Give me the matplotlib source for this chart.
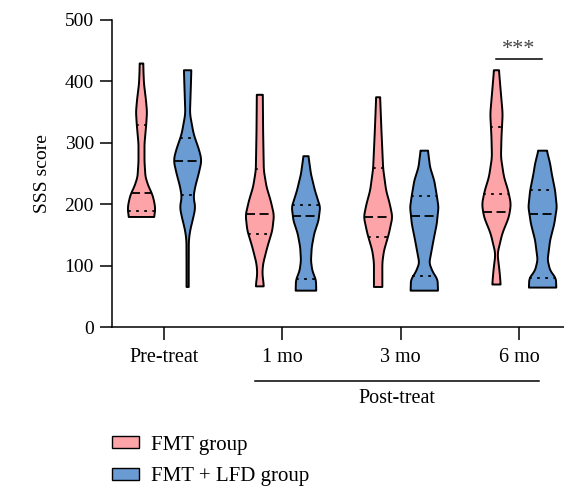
import numpy as np
import matplotlib
matplotlib.use('Agg')
import matplotlib.pyplot as plt
from matplotlib.patches import Patch

plt.rcParams['font.family'] = ['Liberation Serif', 'DejaVu Serif']

# categories and groups
categories = ['Pre-treat', '1 mo', '3 mo', '6 mo']
groups = ['FMT group', 'FMT + LFD group']
colors = ['#FDA4A9', '#6A9BD3']

# violin outlines: score levels and half widths (px)
fmt_y = [
    [180, 185, 196, 210, 218, 230, 245, 270, 299, 332, 351, 370, 397, 415, 430],
    [67, 78, 88, 104, 131, 158, 183, 207, 229, 256, 321, 379],
    [66, 88, 106, 125, 153, 180, 201, 223, 259, 321, 375],
    [70, 93, 120, 153, 180, 201, 223, 245, 277, 310, 348, 386, 419],
]
fmt_w = [
    [12.5, 13.3, 13.7, 12, 10.5, 7, 4, 3, 3, 4.8, 5.5, 4.5, 2.5, 2, 1.8],
    [4, 3.3, 2.5, 3.3, 7.5, 12.5, 14.2, 10.8, 6.7, 4, 3.3, 3],
    [4.2, 4.2, 4.2, 5.8, 10.8, 14.3, 11.7, 8, 5, 3.3, 2],
    [4.2, 3, 1, 5.8, 12.5, 14.5, 11.7, 7.5, 4.5, 5, 6.2, 4.2, 2.5],
]
lfd_y = [
    [66, 100, 142, 158, 180, 196, 212, 229, 250, 272, 288, 315, 348, 397, 419],
    [60, 77, 93, 109, 131, 153, 174, 196, 223, 250, 279],
    [60, 78, 91, 105, 120, 142, 169, 196, 215, 239, 261, 288],
    [65, 80, 93, 110, 142, 169, 196, 223, 250, 267, 288],
]
lfd_w = [
    [1.1, 1.1, 1.2, 2.5, 5.8, 7.8, 5.8, 7.5, 11, 14, 11.7, 6, 2.3, 3.3, 3.7],
    [10.3, 10, 6.3, 5, 5.8, 8.3, 12.5, 14.2, 9, 5, 2.5],
    [13.7, 13.3, 8.3, 5, 6.7, 9.2, 12.5, 14.2, 12.5, 10, 5.8, 3.7],
    [13.7, 13.3, 7.5, 5, 7.5, 11.7, 14.2, 12.5, 9.2, 7.5, 4.3],
]

# median (dashed) and quartile (dotted) lines as drawn
fmt_median = [218, 184, 179, 188]
fmt_quart = [[189, 329], [151, 257], [147, 259], [216, 325]]
lfd_median = [270, 181, 180, 184]
lfd_quart = [[215, 308], [78, 199], [83, 214], [80, 223]]

px_per_unit = 118.3
offset = 0.195


def smooth_outline(ys, ws):
    yy = np.linspace(ys[0], ys[-1], 400)
    ww = np.interp(yy, ys, ws)
    k = 9
    pad = np.pad(ww, k, mode='edge')
    ww = np.convolve(pad, np.ones(2 * k + 1) / (2 * k + 1), mode='same')[k:-k]
    return yy, ww / px_per_unit


fig = plt.figure(figsize=(5.64, 4.88), dpi=100)
ax = fig.add_axes([112 / 564, 1 - 327 / 488, 1 - 112 / 564, (327 - 20) / 488])

for gi, (ys_all, ws_all, med, quart) in enumerate([
        (fmt_y, fmt_w, fmt_median, fmt_quart),
        (lfd_y, lfd_w, lfd_median, lfd_quart)]):
    for ci in range(len(categories)):
        xc = ci + (offset if gi else -offset)
        yy, ww = smooth_outline(ys_all[ci], ws_all[ci])
        ax.fill_betweenx(yy, xc - ww, xc + ww, facecolor=colors[gi],
                         edgecolor='black', linewidth=1.4, zorder=2)
        hw = np.interp(med[ci], yy, ww)
        ax.plot([xc - hw, xc + hw], [med[ci], med[ci]], color='black',
                lw=1.3, dashes=(5, 2.5), zorder=3)
        for q in quart[ci]:
            hw = np.interp(q, yy, ww)
            ax.plot([xc - hw, xc + hw], [q, q], color='black',
                    lw=1.3, dashes=(1.5, 3), zorder=3)

ax.set_xlim(-0.44, 3.38)
ax.set_ylim(0, 500)
ax.set_yticks(range(0, 501, 100))
ax.set_xticks(range(len(categories)))
ax.set_xticklabels(categories, fontsize=14.5)
ax.tick_params(axis='y', labelsize=14, length=9, width=1.1, pad=4)
ax.tick_params(axis='x', length=9, width=1.1, pad=6)
for s in ['top', 'right']:
    ax.spines[s].set_visible(False)
for s in ['left', 'bottom']:
    ax.spines[s].set_linewidth(1.1)
ax.set_ylabel('SSS score', fontsize=14, labelpad=10)

# post-treat bracket
ax.plot([0.769, 3.17], [-88, -88], color='black', lw=1.1, clip_on=False)
ax.text(1.97, -101, 'Post-treat', ha='center', va='top', fontsize=14.5)

# significance
ax.plot([3 - offset, 3 + offset], [436, 436], color='black', lw=1.1)
ax.text(3, 436, '***', ha='center', va='bottom', fontsize=16, color='#444444')

handles = [Patch(facecolor=c, edgecolor='black', lw=1) for c in colors]
fig.legend(handles, groups, loc='upper left', bbox_to_anchor=(0.183, 0.124),
           frameon=False, fontsize=15, handlelength=1.3, handleheight=0.5,
           handletextpad=0.6, labelspacing=0.6, borderaxespad=0)

fig.savefig('out.png', dpi=100)
